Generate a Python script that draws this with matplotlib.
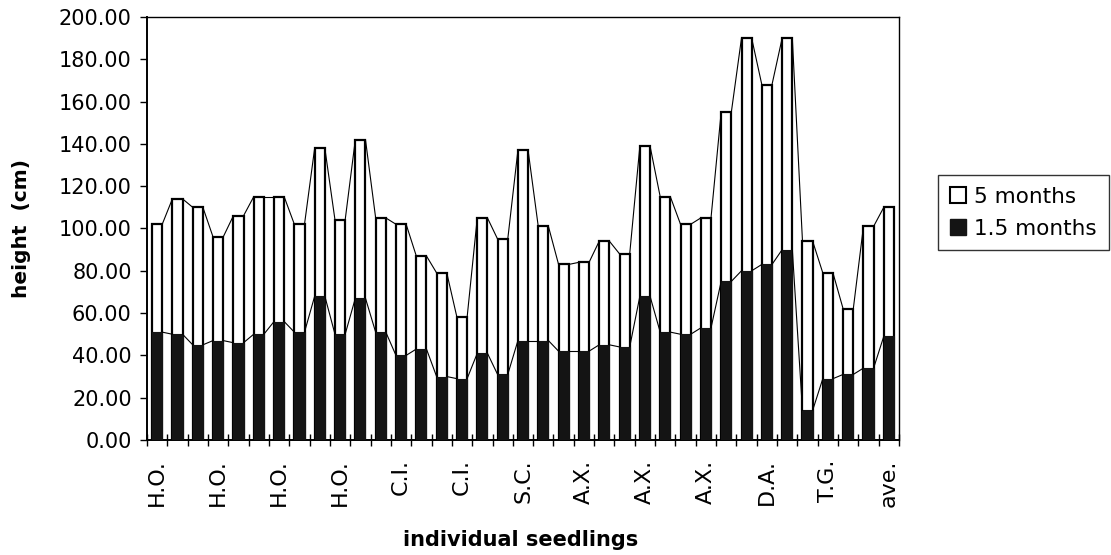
import numpy as np
import matplotlib
matplotlib.use('Agg')
import matplotlib.pyplot as plt
from matplotlib.patches import Patch

# individual seedlings (labels shown every 3rd bar)
tick_labels = ['H.O.', 'H.O.', 'H.O.', 'H.O.', 'C.I.', 'C.I.', 'S.C.',
               'A.X.', 'A.X.', 'A.X.', 'D.A.', 'T.G.', 'ave.']
h5 = [102, 114, 110, 96, 106, 115, 115, 102, 138, 104, 142, 105, 102,
      87, 79, 58, 105, 95, 137, 101, 83, 84, 94, 88, 139, 115, 102, 105,
      155, 190, 168, 190, 94, 79, 62, 101, 110]
h15 = [51, 50, 45, 47, 46, 50, 56, 51, 68, 50, 67, 51, 40,
       43, 30, 29, 41, 31, 47, 47, 42, 42, 45, 44, 68, 51, 50, 53,
       75, 80, 83, 90, 14, 29, 31, 34, 49]

x = np.arange(len(h5))
w = 0.5

fig = plt.figure(figsize=(11.11, 5.55), dpi=100)
ax = fig.add_axes([0.1323, 0.2072, 0.8092 - 0.1323, 0.9694 - 0.2072])

ax.bar(x, h5, width=w, color='white', edgecolor='black', linewidth=1.6, zorder=2)
ax.bar(x, h15, width=w, color='#141414', edgecolor='#141414', linewidth=0.8, zorder=3)

# series lines between bar tops (right corner -> left corner of next bar)
for vals in (h5, h15):
    for i in range(len(vals) - 1):
        ax.plot([x[i] + w / 2, x[i + 1] - w / 2], [vals[i], vals[i + 1]],
                color='black', linewidth=0.8, zorder=4)

ax.set_xlim(-0.5, len(h5) - 0.5)
ax.set_ylim(0, 200)
ax.set_yticks(np.arange(0, 201, 20))
ax.set_yticklabels(['%.2f' % v for v in np.arange(0, 201, 20)], fontsize=15)
ax.set_xticks(x[::3])
ax.set_xticklabels(tick_labels, rotation=90, fontsize=16)
ax.set_xticks(np.arange(-0.5, len(h5), 1.0), minor=True)
ax.tick_params(axis='x', which='major', length=0, pad=14)
ax.tick_params(axis='x', which='minor', direction='inout', length=9, width=1)
ax.tick_params(axis='y', direction='out', length=5, width=1, pad=6)
for s in ax.spines.values():
    s.set_linewidth(1.0)
ax.spines['left'].set_linewidth(1.4)
ax.spines['bottom'].set_linewidth(1.4)

ax.set_ylabel('height  (cm)', fontsize=14.5, fontweight='bold', labelpad=20)
fig.text(0.469, 0.017, 'individual seedlings', fontsize=15, fontweight='bold',
         ha='center', va='baseline')

handles = [Patch(facecolor='white', edgecolor='black', linewidth=1.5),
           Patch(facecolor='#141414', edgecolor='#141414')]
leg = fig.legend(handles, ['5 months', '1.5 months'], loc='upper left',
                 bbox_to_anchor=(0.844, 0.685), fontsize=15.5, frameon=True,
                 fancybox=False, shadow=False, handlelength=0.75, handleheight=0.75,
                 handletextpad=0.4, borderpad=0.55, labelspacing=0.55,
                 borderaxespad=0)
leg.get_frame().set_edgecolor('black')
leg.get_frame().set_linewidth(1.0)

plt.savefig('out.png', dpi=100)
